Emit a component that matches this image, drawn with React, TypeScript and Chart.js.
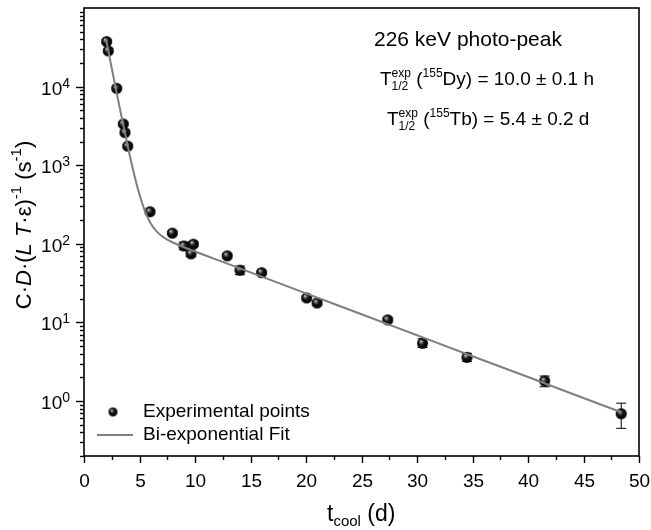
import React, { useEffect, useRef } from "react";
import { Chart, registerables } from "chart.js";
Chart.register(...registerables);

// ---- data ----
const tDays = [2.04, 2.19, 2.95, 3.54, 3.69, 3.94, 5.95, 7.96, 9.0, 9.64, 9.85, 12.9, 14.05, 16.0, 20.06, 21.0, 27.36, 30.5, 34.5, 41.5, 48.4];
const rate = [37400, 28500, 9500, 3350, 2600, 1750, 256, 137, 94, 74.6, 99, 70.3, 46.2, 43, 20.5, 17.7, 10.8, 5.43, 3.6, 1.8, 0.69];
const rateLow = [35500, 27100, 9050, 3200, 2480, 1670, 244, 130, 84, 69, 92, 66, 40.5, 40.5, 19.2, 16.6, 10.1, 4.8, 3.2, 1.52, 0.45];
const rateHigh = [39300, 29900, 9950, 3500, 2720, 1830, 268, 144, 105, 80, 107, 75, 52, 45.5, 21.8, 18.8, 11.5, 6.2, 4.05, 2.08, 0.94];

const fitT = [2.0, 2.5, 3.0, 3.5, 4.0, 4.5, 5.0, 5.5, 6.0, 6.5, 7.0, 7.5, 8.0, 9.0, 10.0, 12.0, 15.0, 20.0, 25.0, 30.0, 35.0, 40.0, 45.0, 48.4];
const fitV = [38870, 17155, 7629, 3440, 1599, 785, 423, 259, 183, 146, 125.5, 112.9, 104, 90.6, 79.8, 62.5, 43.3, 23.4, 12.7, 6.87, 3.72, 2.02, 1.093, 0.72];

const xTickLabels = ["0", "5", "10", "15", "20", "25", "30", "35", "40", "45", "50"];
const yTickExponents = ["0", "1", "2", "3", "4"];

const FAM = '"Liberation Sans", Arial, Helvetica, sans-serif';

function makeBall(r: number): HTMLCanvasElement {
  const s = Math.ceil(2 * r + 2);
  const c = document.createElement("canvas");
  c.width = s;
  c.height = s;
  const g = c.getContext("2d")!;
  const cx = s / 2;
  const grad = g.createRadialGradient(cx - r * 0.35, cx - r * 0.4, 0, cx, cx, r);
  grad.addColorStop(0, "#f2f2f2");
  grad.addColorStop(0.2, "#808080");
  grad.addColorStop(0.5, "#141414");
  grad.addColorStop(1, "#000000");
  g.fillStyle = grad;
  g.beginPath();
  g.arc(cx, cx, r, 0, Math.PI * 2);
  g.fill();
  return c;
}

type Run = { t?: string; f?: string; dy?: number; stack?: { top: string; bot: string; f: string; dyTop: number; dyBot: number } };

function runsWidth(ctx: CanvasRenderingContext2D, runs: Run[]) {
  let w = 0;
  for (const r of runs) {
    if (r.stack) {
      ctx.font = r.stack.f;
      w += Math.max(ctx.measureText(r.stack.top).width, ctx.measureText(r.stack.bot).width);
    } else {
      ctx.font = r.f!;
      w += ctx.measureText(r.t!).width;
    }
  }
  return w;
}

function drawRuns(ctx: CanvasRenderingContext2D, x: number, y: number, runs: Run[]) {
  let cx = x;
  for (const r of runs) {
    if (r.stack) {
      ctx.font = r.stack.f;
      const w1 = ctx.measureText(r.stack.top).width;
      const w2 = ctx.measureText(r.stack.bot).width;
      ctx.fillText(r.stack.top, cx, y + r.stack.dyTop);
      ctx.fillText(r.stack.bot, cx, y + r.stack.dyBot);
      cx += Math.max(w1, w2);
    } else {
      ctx.font = r.f!;
      ctx.fillText(r.t!, cx, y + (r.dy || 0));
      cx += ctx.measureText(r.t!).width;
    }
  }
}

const decor = {
  id: "decor",
  beforeDatasetsDraw(chart: any) {
    const ctx: CanvasRenderingContext2D = chart.ctx;
    const xs = chart.scales.x;
    const ys = chart.scales.y;
    const a = chart.chartArea;
    ctx.save();
    ctx.beginPath();
    ctx.rect(a.left, a.top, a.right - a.left, a.bottom - a.top);
    ctx.clip();
    ctx.strokeStyle = "#000";
    ctx.lineWidth = 1;
    for (let i = 0; i < tDays.length; i++) {
      const px = xs.getPixelForValue(tDays[i]);
      const y1 = ys.getPixelForValue(rateLow[i]);
      const y2 = ys.getPixelForValue(rateHigh[i]);
      ctx.beginPath();
      ctx.moveTo(px, y1);
      ctx.lineTo(px, y2);
      ctx.moveTo(px - 5, y1);
      ctx.lineTo(px + 5, y1);
      ctx.moveTo(px - 5, y2);
      ctx.lineTo(px + 5, y2);
      ctx.stroke();
    }
    ctx.restore();
  },
  afterDraw(chart: any) {
    const ctx: CanvasRenderingContext2D = chart.ctx;
    const xs = chart.scales.x;
    const ys = chart.scales.y;
    const a = chart.chartArea;
    ctx.save();
    ctx.fillStyle = "#000";
    ctx.strokeStyle = "#000";

    // frame
    ctx.lineWidth = 1.6;
    ctx.strokeRect(a.left, a.top, a.right - a.left, a.bottom - a.top);

    // x ticks
    ctx.lineWidth = 1.4;
    ctx.textAlign = "center";
    ctx.textBaseline = "alphabetic";
    ctx.font = "19px " + FAM;
    for (let i = 0; i < xTickLabels.length; i++) {
      const v = Number(xTickLabels[i]);
      const px = Math.round(xs.getPixelForValue(v)) + 0.5;
      ctx.beginPath();
      ctx.moveTo(px, a.bottom);
      ctx.lineTo(px, a.bottom + 7);
      ctx.stroke();
      ctx.fillText(xTickLabels[i], px, 487);
      if (i < xTickLabels.length - 1) {
        const pm = Math.round(xs.getPixelForValue(v + 2.5)) + 0.5;
        ctx.beginPath();
        ctx.moveTo(pm, a.bottom);
        ctx.lineTo(pm, a.bottom + 4);
        ctx.stroke();
      }
    }

    // y ticks (log)
    for (let e = -1; e <= 4; e++) {
      for (let m = 1; m <= 9; m++) {
        const v = m * Math.pow(10, e);
        if (v < ys.min - 1e-9 || v > ys.max + 1e-9) continue;
        const py = Math.round(ys.getPixelForValue(v)) + 0.5;
        const len = m === 1 ? 8 : 4;
        ctx.beginPath();
        ctx.moveTo(a.left, py);
        ctx.lineTo(a.left - len, py);
        ctx.stroke();
      }
    }
    ctx.textAlign = "left";
    for (let i = 0; i < yTickExponents.length; i++) {
      const py = ys.getPixelForValue(Math.pow(10, Number(yTickExponents[i])));
      ctx.font = "19px " + FAM;
      const w1 = ctx.measureText("10").width;
      ctx.font = "14px " + FAM;
      const w2 = ctx.measureText(yTickExponents[i]).width;
      const x0 = 70 - w1 - w2;
      ctx.font = "19px " + FAM;
      ctx.fillText("10", x0, py + 8);
      ctx.font = "14px " + FAM;
      ctx.fillText(yTickExponents[i], x0 + w1, py + 1);
    }

    // x title
    drawRuns(ctx, 327, 521, [
      { t: "t", f: "23px " + FAM },
      { t: "cool", f: "15px " + FAM, dy: 5 },
      { t: " (d)", f: "23px " + FAM },
    ]);

    // y title (rotated)
    const N = "22px " + FAM;
    const I = "italic 22px " + FAM;
    const S = "15px " + FAM;
    const yRuns: Run[] = [
      { t: "C\u00B7", f: N },
      { t: "D", f: I },
      { t: "\u00B7(", f: N },
      { t: "L", f: I },
      { t: " ", f: N },
      { t: "T", f: I },
      { t: "\u00B7\u03B5)", f: N },
      { t: "-1", f: S, dy: -10 },
      { t: " (s", f: N },
      { t: "-1", f: S, dy: -10 },
      { t: ")", f: N },
    ];
    ctx.save();
    ctx.translate(31, 225);
    ctx.rotate(-Math.PI / 2);
    const yw = runsWidth(ctx, yRuns);
    drawRuns(ctx, -yw / 2, 0, yRuns);
    ctx.restore();

    // annotation
    ctx.font = "21px " + FAM;
    ctx.fillText("226 keV photo-peak", 374, 46);
    const B = "19px " + FAM;
    const s12 = "12px " + FAM;
    drawRuns(ctx, 380, 85, [
      { t: "T", f: B },
      { stack: { top: "exp", bot: "1/2", f: s12, dyTop: -8, dyBot: 5 } },
      { t: " (", f: B },
      { t: "155", f: s12, dy: -8 },
      { t: "Dy) = 10.0 \u00B1 0.1 h", f: B },
    ]);
    drawRuns(ctx, 387, 125, [
      { t: "T", f: B },
      { stack: { top: "exp", bot: "1/2", f: s12, dyTop: -8, dyBot: 5 } },
      { t: " (", f: B },
      { t: "155", f: s12, dy: -8 },
      { t: "Tb) = 5.4 \u00B1 0.2 d", f: B },
    ]);

    // legend
    const ball = makeBall(4.5);
    ctx.drawImage(ball, 113 - ball.width / 2, 412 - ball.height / 2);
    ctx.strokeStyle = "#808080";
    ctx.lineWidth = 2;
    ctx.beginPath();
    ctx.moveTo(97, 435);
    ctx.lineTo(133, 435);
    ctx.stroke();
    ctx.font = "19px " + FAM;
    ctx.textBaseline = "middle";
    ctx.fillText("Experimental points", 143, 412);
    ctx.fillText("Bi-exponential Fit", 143, 435);
    ctx.restore();
  },
};

export default function App() {
  const ref = useRef<HTMLCanvasElement | null>(null);
  useEffect(() => {
    if (!ref.current) return;
    const ball = makeBall(5.5);
    const chart = new Chart(ref.current, {
      type: "scatter",
      data: {
        datasets: [
          {
            label: "Bi-exponential Fit",
            data: fitT.map((t, i) => ({ x: t, y: fitV[i] })),
            showLine: true,
            borderColor: "#7f7f7f",
            borderWidth: 2,
            pointRadius: 0,
            cubicInterpolationMode: "monotone",
            fill: false,
          } as any,
          {
            label: "Experimental points",
            data: tDays.map((t, i) => ({ x: t, y: rate[i] })),
            showLine: false,
            pointStyle: ball as any,
            pointRadius: 5.5,
          } as any,
        ],
      },
      options: {
        responsive: false,
        animation: false,
        layout: { padding: { left: 84, top: 8, right: 12, bottom: 74 } },
        scales: {
          x: { type: "linear", min: 0, max: 50, display: false },
          y: { type: "logarithmic", min: 0.2, max: 100000, display: false },
        },
        plugins: { legend: { display: false }, tooltip: { enabled: false } },
      },
      plugins: [decor],
    });
    return () => chart.destroy();
  }, []);
  return (
    <div style={{ position: "fixed", left: 0, top: 0, width: 651, height: 530, background: "#fff" }}>
      <canvas ref={ref} width={651} height={530} style={{ width: 651, height: 530, display: "block" }} />
    </div>
  );
}
